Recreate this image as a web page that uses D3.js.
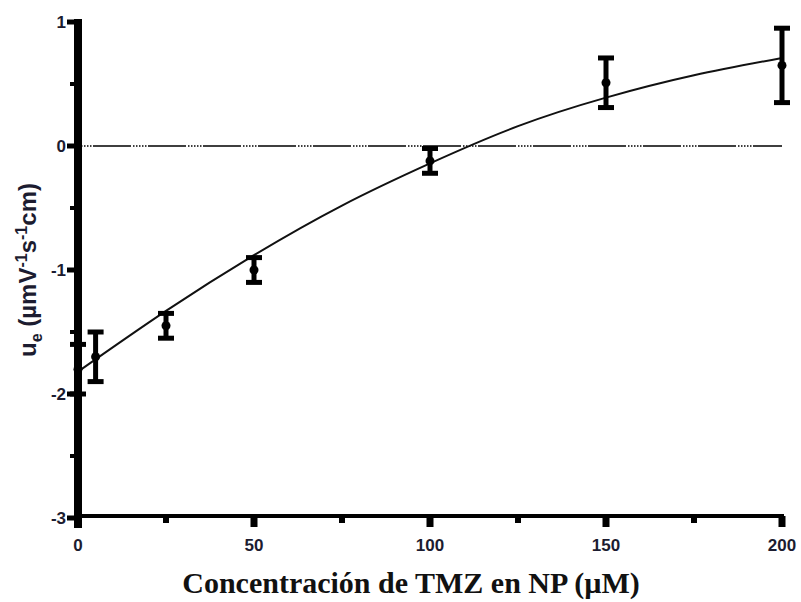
<!DOCTYPE html>
<html>
<head>
<meta charset="utf-8">
<script src="https://cdn.jsdelivr.net/npm/d3@7"></script>
<style>
  body { margin: 0; background: #fff; }
  svg { display: block; }
  .tick-label { font-family: "Liberation Sans", Arial, sans-serif; font-weight: bold; font-size: 17px; fill: #1c1c30; }
</style>
</head>
<body>
<div id="chart"></div>
<script>
var width = 801, height = 602;

// measured points (mean +/- error)
var conc = [0, 5, 25, 50, 100, 150, 200];
var mobility = [-1.80, -1.70, -1.45, -1.00, -0.12, 0.51, 0.65];
var errors = [0.20, 0.20, 0.10, 0.10, 0.10, 0.20, 0.30];

// fitted curve
var fitX = [0, 25, 50, 75, 100, 125, 150, 175, 200];
var fitY = [-1.82, -1.33, -0.88, -0.48, -0.14, 0.16, 0.39, 0.57, 0.71];

var xTicks = [0, 50, 100, 150, 200],
    xMinor = [25, 75, 125, 175],
    yTicks = [-3, -2, -1, 0, 1],
    yMinor = [-2.5, -1.5, -0.5, 0.5];

var svg = d3.select('#chart').append('svg')
    .attr('width', width).attr('height', height);

var x = d3.scaleLinear().domain([0, 200]).range([78, 782]);
var y = d3.scaleLinear().domain([-3, 1]).range([518, 22]);

// dashed zero line
svg.append('line')
    .attr('x1', x(0)).attr('x2', x(200))
    .attr('y1', y(0)).attr('y2', y(0))
    .attr('stroke', '#000').attr('stroke-width', 1.3)
    .attr('stroke-dasharray', '1.5,1.5,1.5,1.5,1.5,1.5,1.5,1.5,1.5,1.5,38,2');

// fitted curve
var line = d3.line()
    .curve(d3.curveNatural)
    .x((d) => x(d[0]))
    .y((d) => y(d[1]));

svg.append('path')
    .datum(fitX.map((v, i) => [v, fitY[i]]))
    .attr('d', line)
    .attr('fill', 'none')
    .attr('stroke', '#111')
    .attr('stroke-width', 2);

// error bars
var pts = svg.selectAll('.pt').data(conc).enter().append('g').attr('class', 'pt');
pts.append('line')
    .attr('x1', (d) => x(d)).attr('x2', (d) => x(d))
    .attr('y1', (d, i) => y(mobility[i] + errors[i]))
    .attr('y2', (d, i) => y(mobility[i] - errors[i]))
    .attr('stroke', '#000').attr('stroke-width', 5);
pts.append('line')
    .attr('x1', (d) => x(d) - 8).attr('x2', (d) => x(d) + 8)
    .attr('y1', (d, i) => y(mobility[i] + errors[i]))
    .attr('y2', (d, i) => y(mobility[i] + errors[i]))
    .attr('stroke', '#000').attr('stroke-width', 5);
pts.append('line')
    .attr('x1', (d) => x(d) - 8).attr('x2', (d) => x(d) + 8)
    .attr('y1', (d, i) => y(mobility[i] - errors[i]))
    .attr('y2', (d, i) => y(mobility[i] - errors[i]))
    .attr('stroke', '#000').attr('stroke-width', 5);
pts.append('circle')
    .attr('cx', (d) => x(d)).attr('cy', (d, i) => y(mobility[i]))
    .attr('r', 4.5).attr('fill', '#000');

// x axis
svg.append('line')
    .attr('x1', x(0)).attr('x2', x(200) + 2)
    .attr('y1', 516).attr('y2', 516)
    .attr('stroke', '#000').attr('stroke-width', 4);

svg.selectAll('.xmajor').data(xTicks).enter().append('rect')
    .attr('x', (d) => x(d) - 3.5).attr('y', 516).attr('width', 7).attr('height', 11)
    .attr('fill', '#000');
svg.selectAll('.xminor').data(xMinor).enter().append('rect')
    .attr('x', (d) => x(d) - 3).attr('y', 516).attr('width', 6).attr('height', 7)
    .attr('fill', '#000');
svg.selectAll('.xlabel').data(xTicks).enter().append('text')
    .attr('class', 'tick-label')
    .attr('x', (d) => x(d)).attr('y', 551)
    .attr('text-anchor', 'middle')
    .text((d) => d);

// y axis (drawn over the points at x = 0)
svg.append('rect')
    .attr('x', 74).attr('y', 19).attr('width', 8).attr('height', 509)
    .attr('fill', '#000');
svg.selectAll('.ymajor').data(yTicks).enter().append('rect')
    .attr('x', 67).attr('y', (d) => y(d) - 2.5).attr('width', 10).attr('height', 5)
    .attr('fill', '#000');
svg.selectAll('.yminor').data(yMinor).enter().append('rect')
    .attr('x', 70).attr('y', (d) => y(d) - 2).attr('width', 6).attr('height', 4)
    .attr('fill', '#000');
svg.selectAll('.ylabel').data(yTicks).enter().append('text')
    .attr('class', 'tick-label')
    .attr('x', 66).attr('y', (d) => y(d) + 6)
    .attr('text-anchor', 'end')
    .text((d) => d);

// axis titles
var yTitle = svg.append('text')
    .attr('transform', 'translate(36,270)rotate(-90)')
    .attr('text-anchor', 'middle')
    .style('font-family', '"Liberation Sans", Arial, sans-serif')
    .style('font-weight', 'bold')
    .style('font-size', '24px')
    .style('fill', '#1c1c30');
yTitle.append('tspan').text('u');
yTitle.append('tspan').attr('dy', 6).style('font-size', '16px').text('e');
yTitle.append('tspan').attr('dy', -6).text(' (µmV');
yTitle.append('tspan').attr('dy', -9).style('font-size', '16px').text('-1');
yTitle.append('tspan').attr('dy', 9).text('s');
yTitle.append('tspan').attr('dy', -9).style('font-size', '16px').text('-1');
yTitle.append('tspan').attr('dy', 9).text('cm)');

svg.append('text')
    .attr('x', 411).attr('y', 593)
    .attr('text-anchor', 'middle')
    .style('font-family', '"Liberation Serif", "Times New Roman", serif')
    .style('font-weight', 'bold')
    .style('font-size', '30px')
    .style('fill', '#111')
    .text('Concentración de TMZ en NP (µM)');
</script>
</body>
</html>
